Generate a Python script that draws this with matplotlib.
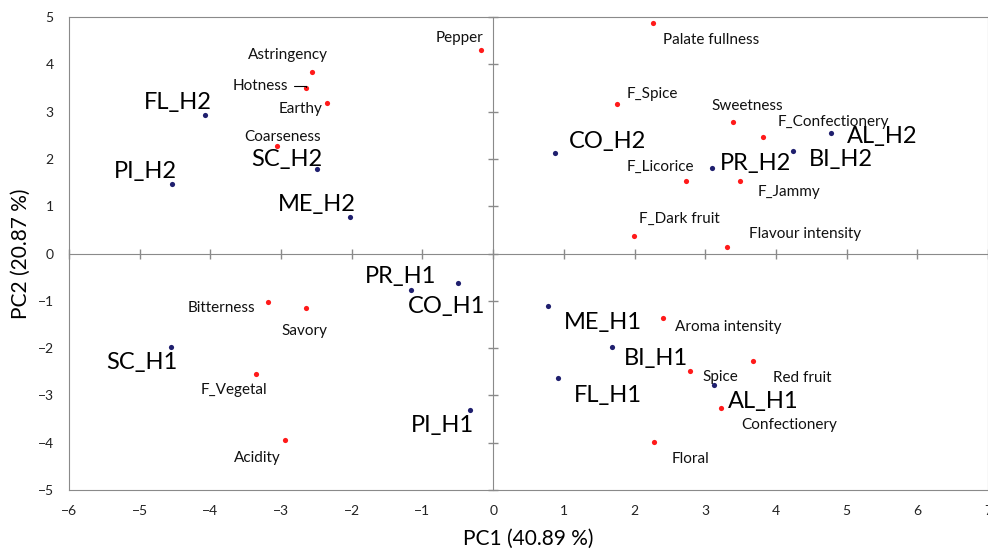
import matplotlib.pyplot as plt
import numpy as np

plt.rcParams['font.family'] = ['Lato', 'DejaVu Sans']

# sample scores (PC1, PC2)
samples = ['FL_H2', 'SC_H2', 'PI_H2', 'ME_H2', 'CO_H2', 'PR_H2', 'AL_H2', 'BI_H2',
           'PR_H1', 'CO_H1', 'SC_H1', 'PI_H1', 'ME_H1', 'BI_H1', 'FL_H1', 'AL_H1']
sample_pc1 = [-4.07, -2.49, -4.54, -2.02, 0.87, 3.09, 4.78, 4.24,
              -1.16, -0.49, -4.55, -0.33, 0.77, 1.68, 0.92, 3.12]
sample_pc2 = [2.93, 1.79, 1.47, 0.78, 2.12, 1.80, 2.54, 2.16,
              -0.78, -0.63, -1.97, -3.30, -1.11, -1.97, -2.64, -2.78]

# sensory attributes (PC1, PC2)
attributes = ['Pepper', 'Astringency', 'Hotness', 'Earthy', 'Coarseness',
              'Palate fullness', 'F_Spice', 'Sweetness', 'F_Confectionery',
              'F_Licorice', 'F_Jammy', 'F_Dark fruit', 'Flavour intensity',
              'Bitterness', 'Savory', 'F_Vegetal', 'Acidity',
              'Aroma intensity', 'Spice', 'Red fruit', 'Confectionery', 'Floral']
attr_pc1 = [-0.17, -2.56, -2.64, -2.35, -3.06,
            2.26, 1.75, 3.39, 3.82,
            2.73, 3.49, 1.99, 3.31,
            -3.19, -2.64, -3.36, -2.94,
            2.40, 2.79, 3.68, 3.22, 2.27]
attr_pc2 = [4.30, 3.83, 3.49, 3.19, 2.28,
            4.88, 3.17, 2.78, 2.47,
            1.54, 1.54, 0.38, 0.14,
            -1.03, -1.15, -2.54, -3.95,
            -1.37, -2.48, -2.28, -3.27, -3.98]

x_ticks = list(range(-6, 8))
y_ticks = list(range(-5, 6))

# label placement, pixels right / down from the marker
sample_offsets = {
    'FL_H2': (-28, -12), 'SC_H2': (-30, -9), 'PI_H2': (-27, -12), 'ME_H2': (-34, -12),
    'CO_H2': (53, -12), 'PR_H2': (44, -5), 'AL_H2': (51, 3), 'BI_H2': (48, 8),
    'PR_H1': (-11, -14), 'CO_H1': (-12, 23), 'SC_H1': (-30, 16), 'PI_H1': (-27, 16),
    'ME_H1': (55, 17), 'BI_H1': (44, 12), 'FL_H1': (50, 17), 'AL_H1': (50, 17),
}
attr_offsets = {
    'Pepper': (-22, -12), 'Astringency': (-24, -17), 'Hotness': (-46, -2),
    'Earthy': (-26, 6), 'Coarseness': (6, -9), 'Palate fullness': (58, 17),
    'F_Spice': (35, -10), 'Sweetness': (14, -16), 'F_Confectionery': (70, -15),
    'F_Licorice': (-26, -14), 'F_Jammy': (49, 11), 'F_Dark fruit': (46, -17),
    'Flavour intensity': (78, -13), 'Bitterness': (-46, 6), 'Savory': (-2, 23),
    'F_Vegetal': (-22, 16), 'Acidity': (-28, 18), 'Aroma intensity': (65, 9),
    'Spice': (30, 6), 'Red fruit': (49, 17), 'Confectionery': (68, 17),
    'Floral': (37, 17),
}

px = 72 / 100
frame_col = '#8a8a8a'

fig = plt.figure(figsize=(9.88, 5.49), dpi=100)
ax = fig.add_axes([0.0698, 0.1075, 0.9302, 0.8615])
ax.set_xlim(-6, 7)
ax.set_ylim(-5, 5)

# axes through the origin carry the tick marks
for side in ['left', 'bottom']:
    ax.spines[side].set_position('zero')
    ax.spines[side].set_color(frame_col)
for side in ['top', 'right']:
    ax.spines[side].set_color(frame_col)
ax.set_xticks(x_ticks)
ax.set_yticks(y_ticks)
ax.tick_params(direction='inout', length=7, width=1, color=frame_col,
               labelleft=False, labelbottom=False)

# outer frame edges carry the tick labels
sx = ax.secondary_xaxis('bottom')
sx.set_xticks(x_ticks)
sx.tick_params(length=0, pad=11, labelsize=10, labelcolor='#222222')
sx.spines['bottom'].set_color(frame_col)
sy = ax.secondary_yaxis('left')
sy.set_yticks(y_ticks)
sy.tick_params(length=0, pad=11, labelsize=10, labelcolor='#222222')
sy.spines['left'].set_color(frame_col)
sx.set_xlabel('PC1 (40.89 %)', fontsize=15, labelpad=8)
sy.set_ylabel('PC2 (20.87 %)', fontsize=15, labelpad=5)

ax.scatter(attr_pc1, attr_pc2, s=14, color='#ff1a1a', zorder=3, linewidths=0)
ax.scatter(sample_pc1, sample_pc2, s=14, color='#1f1f6e', zorder=3, linewidths=0)

for name, x, y in zip(samples, sample_pc1, sample_pc2):
    dx, dy = sample_offsets[name]
    ax.annotate(name, (x, y), xytext=(dx * px, -dy * px), textcoords='offset points',
                ha='center', va='center', fontsize=17, color='black')

for name, x, y in zip(attributes, attr_pc1, attr_pc2):
    dx, dy = attr_offsets[name]
    arrow = None
    if name == 'Hotness':
        arrow = dict(arrowstyle='-', color='black', lw=0.8, shrinkA=2, shrinkB=1,
                     connectionstyle='angle,angleA=0,angleB=90,rad=0')
    ax.annotate(name, (x, y), xytext=(dx * px, -dy * px), textcoords='offset points',
                ha='center', va='center', fontsize=11, color='#111111',
                arrowprops=arrow)

fig.savefig('out.png', dpi=100)
